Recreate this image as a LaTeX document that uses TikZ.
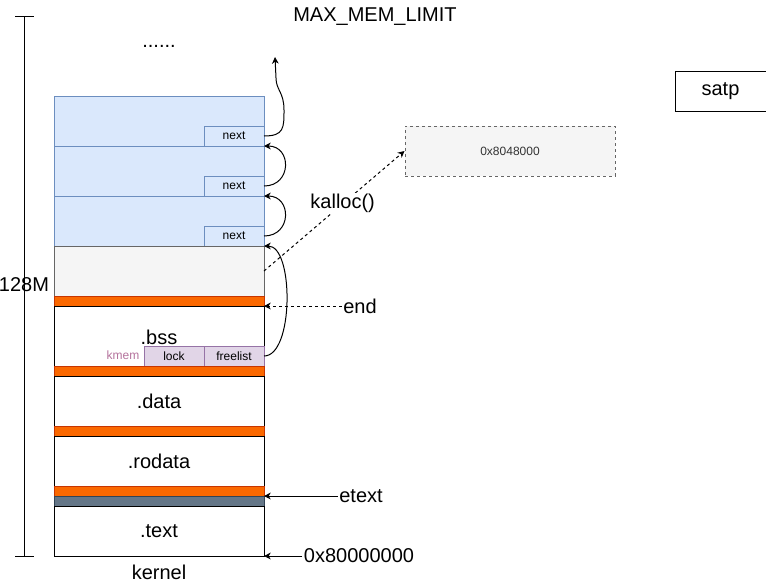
\documentclass[tikz,border=0pt]{standalone}
\usepackage{fontspec}
\setmainfont{Liberation Sans}
\usetikzlibrary{arrows.meta}
\definecolor{bluefill}{HTML}{DAE8FC}
\definecolor{bluedraw}{HTML}{6C8EBF}
\definecolor{grayfill}{HTML}{F5F5F5}
\definecolor{graydraw}{HTML}{666666}
\definecolor{orfill}{HTML}{FA6800}
\definecolor{ordraw}{HTML}{C73500}
\definecolor{darkfill}{HTML}{647687}
\definecolor{darkdraw}{HTML}{314354}
\definecolor{purfill}{HTML}{E1D5E7}
\definecolor{purdraw}{HTML}{9673A6}
\definecolor{kmemcol}{HTML}{B5739D}
\definecolor{txtgray}{HTML}{333333}
\tikzset{
  blk/.style={draw, rectangle, inner sep=0pt, outer sep=0pt, minimum width=157.5pt, line width=0.75pt},
  freeblk/.style={blk, fill=bluefill, draw=bluedraw, minimum height=37.5pt},
  nextbox/.style={draw=bluedraw, fill=bluefill, rectangle, inner sep=0pt, outer sep=0pt, minimum width=45pt, minimum height=15pt, line width=0.75pt, font=\fontsize{9}{11}\selectfont},
  purbox/.style={draw=purdraw, fill=purfill, rectangle, inner sep=0pt, outer sep=0pt, minimum width=45pt, minimum height=15pt, line width=0.75pt, font=\fontsize{9}{11}\selectfont},
  bar/.style={blk, minimum height=7.5pt, fill=orfill, draw=ordraw},
  secblk/.style={blk, fill=white, draw=black, minimum height=37.5pt, font=\fontsize{15}{18}\selectfont},
  big/.style={font=\fontsize{15}{18}\selectfont, inner sep=1pt},
  arr/.style={-{Stealth[length=5pt,width=5pt,inset=1.5pt]}, line width=0.75pt},
  dsh/.style={dash pattern=on 2.25pt off 2.25pt},
}
\begin{document}
\begin{tikzpicture}[x=0.75pt,y=-0.75pt]
\useasboundingbox (0,0) rectangle (766,586);
% scale on the left
\coordinate (scT) at (24,16);
\coordinate (scB) at (24,556);
\draw[line width=0.75pt] (scT) -- (scB);
\draw[line width=0.75pt] (15,16) -- (34,16);
\draw[line width=0.75pt] (15,556) -- (34,556);
\node[big] (lbl128) at (24,285) {128M};
\node[big] (maxmem) at (375,17) {MAX\_MEM\_LIMIT};
\node[big] (dots) at (159,46) {......};

% free blocks
\node[freeblk] (b1) at (159,121) {};
\node[freeblk] (b2) at (159,171) {};
\node[freeblk] (b3) at (159,221) {};
\node[nextbox] (n1) at (234,136) {next};
\node[nextbox] (n2) at (234,186) {next};
\node[nextbox] (n3) at (234,236) {next};
\node[blk, fill=grayfill, draw=graydraw, minimum height=37.5pt] (gray) at (159,271) {};
\node[bar] (or1) at (159,301) {};
\node[blk, fill=white, draw=black, minimum height=45pt] (bss) at (159,336) {};
\node[big] (bsslbl) at (159,337) {.bss};
\node[purbox] (lock) at (174,356) {lock};
\node[purbox] (free) at (234,356) {freelist};
\node[font=\fontsize{9}{11}\selectfont, text=kmemcol, inner sep=1pt, anchor=east] (kmem) at (141,355) {kmem};
\node[bar] (or2) at (159,371) {};
\node[secblk] (data) at (159,401) {.data};
\node[bar] (or3) at (159,431) {};
\node[secblk] (rodata) at (159,461) {.rodata};
\node[bar] (or4) at (159,491) {};
\node[blk, minimum height=7.5pt, fill=darkfill, draw=darkdraw] (dark) at (159,501) {};
\node[secblk] (text) at (159,531) {.text};
\node[big] (kernel) at (159,572) {kernel};

% free list links
\coordinate (topend) at (275,57);
\draw[arr] (n1.east) .. controls (284,136) and (284,128) .. (284,110) .. controls (284,92) and (276,90) .. (276,78) -- (topend);
\draw[arr] (n2.east) .. controls +(28,0) and +(28,0) .. (b1.south east);
\draw[arr] (n3.east) .. controls +(28,0) and +(28,0) .. (b2.south east);
\draw[arr] (free.east) .. controls +(30,0) and +(30,0) .. (b3.south east);

% right side boxes
\node[draw=graydraw, fill=grayfill, dsh, line width=0.75pt, minimum width=157.5pt, minimum height=37.5pt, inner sep=0pt, text=txtgray, font=\fontsize{9}{11}\selectfont] (page) at (510,151) {0x8048000};
\node[draw=black, line width=0.75pt, minimum width=68.25pt, minimum height=30pt, inner sep=0pt, font=\fontsize{15}{18}\selectfont] (satp) at (720.5,91) {satp};

% pointers
\draw[arr, dsh] (gray.east) -- node[pos=0.56, fill=white, big] (kalloc) {kalloc()} (page.west);
\node[big] (endlbl) at (360,306) {end};
\draw[arr, dsh] (endlbl.west) -- (bss.north east);
\node[big] (etext) at (361,496) {etext};
\draw[arr] (etext.west) -- (or4.south east);
\node[big] (base) at (359,556) {0x80000000};
\draw[arr] (base.west) -- (text.south east);
\end{tikzpicture}
\end{document}
